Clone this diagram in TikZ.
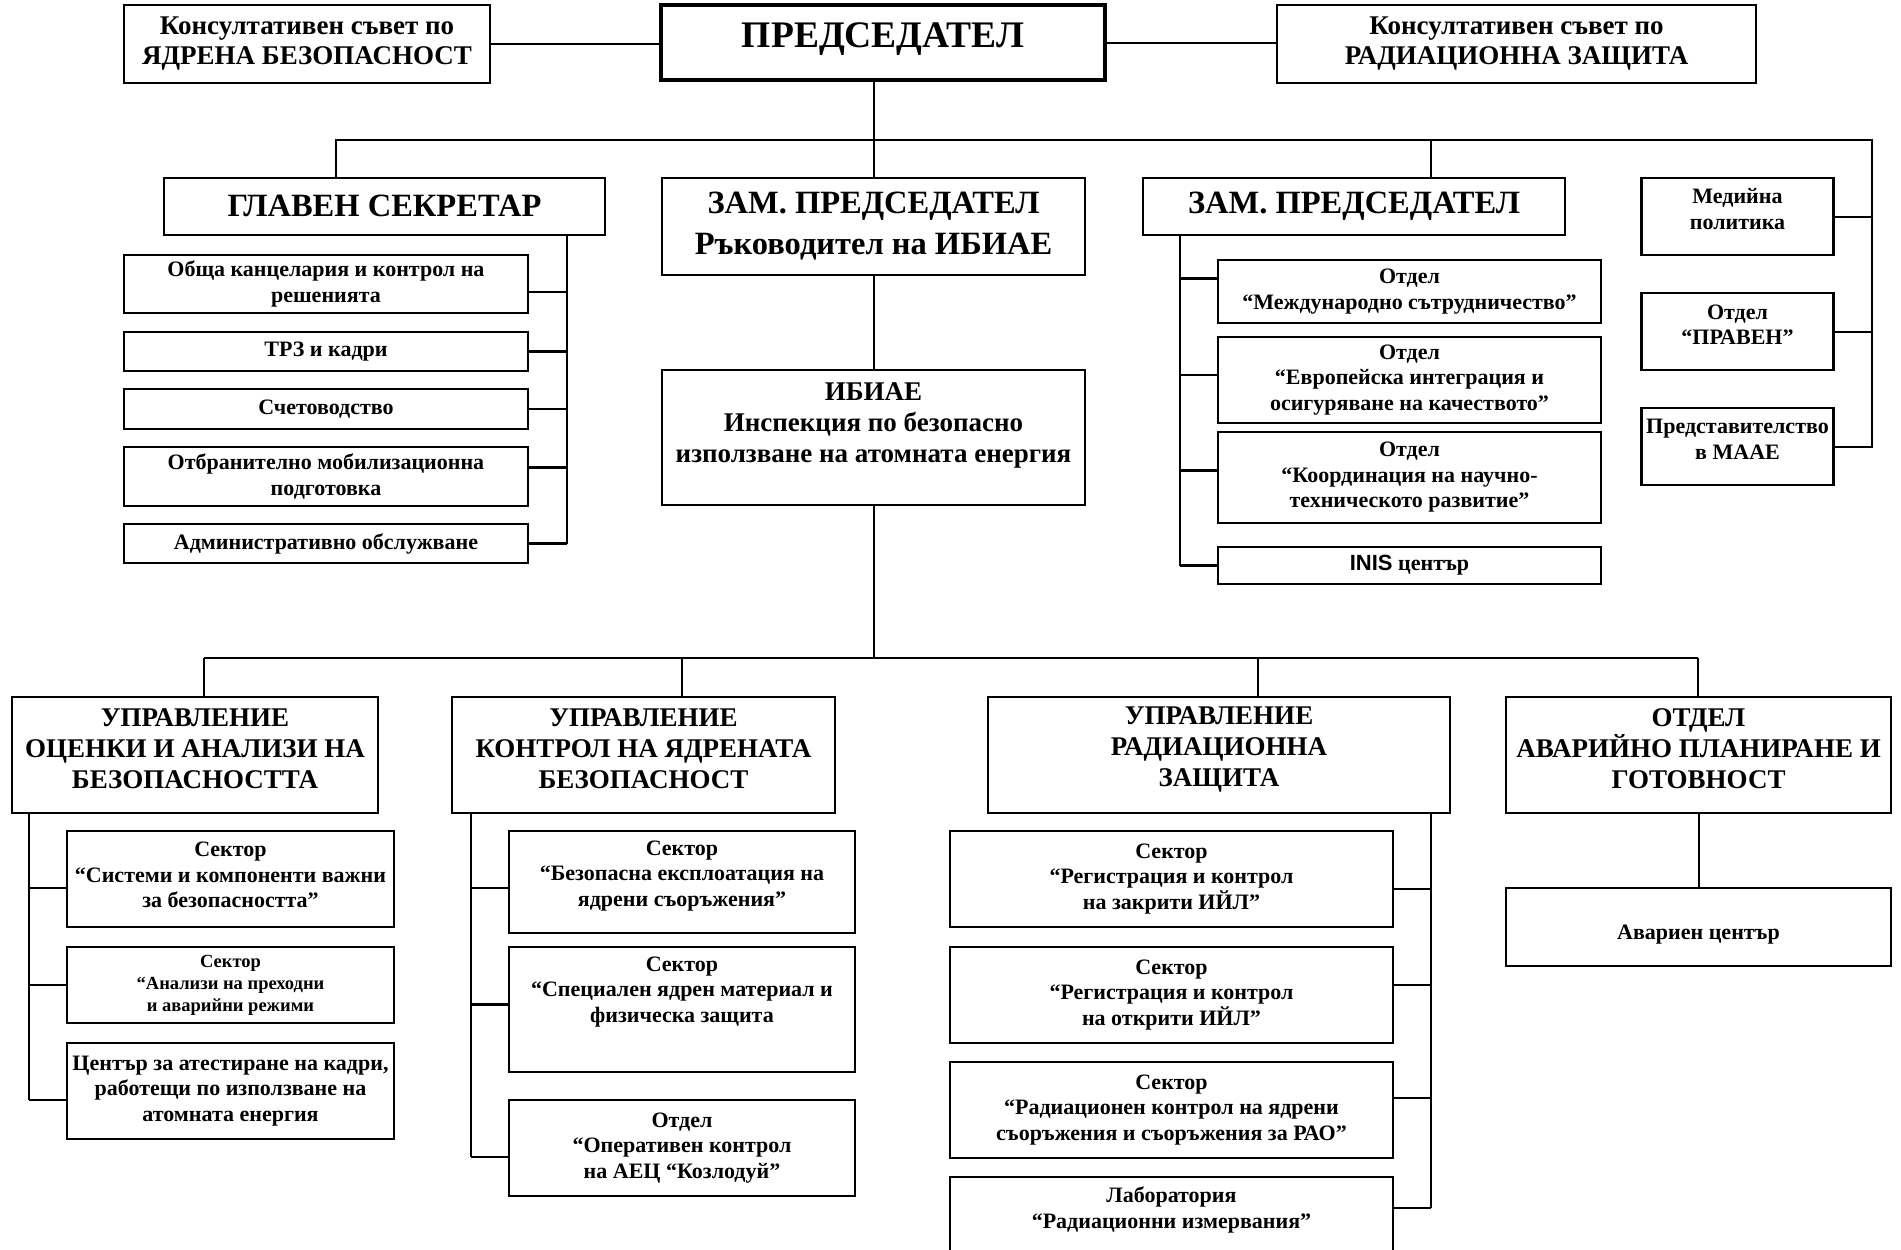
\documentclass[tikz,border=0pt]{standalone}
\usepackage{fontspec}
\setmainfont{Liberation Serif}
\setsansfont{Liberation Sans}
\usepackage{tikz}

\newcommand{\fz}[2]{\fontsize{#1pt}{#2pt}\selectfont\bfseries}

\begin{document}
\begin{tikzpicture}[x=1pt,y=-1pt,
  box/.style={draw,line width=2.6pt,inner sep=0pt,align=center},
  headbig/.style={box,font={\fz{32.5}{41}}},
  headmid/.style={align=center,font={\fz{27}{31}}},
  bodytxt/.style={box,font={\fz{22}{25.5}}},
  plaintxt/.style={align=center,font={\fz{22}{25.5}}},
  bodysmall/.style={box,font={\fz{18.5}{22}}},
  link/.style={line width=2pt},
  buslink/.style={line width=2.7pt}]
\useasboundingbox (0,0) rectangle (1901,1250);

%Top row
\node [box,font={\fz{27}{30}},minimum width=366pt,minimum height=78pt] (ksyb) at (307,44) {Консултативен съвет по\\ЯДРЕНА БЕЗОПАСНОСТ};
\node [box,line width=3.6pt,minimum width=444pt,minimum height=75pt] (pres) at (883,42.5) {};
\node [font={\fz{37.5}{40}}] (prest) at (883,39) {ПРЕДСЕДАТЕЛ};
\node [box,font={\fz{27}{30}},minimum width=479pt,minimum height=78pt] (ksrz) at (1516.5,44) {Консултативен съвет по\\РАДИАЦИОННА ЗАЩИТА};

%Second row
\node [box,minimum width=441pt,minimum height=57pt] (gs) at (384.5,206.5) {};
\node [font={\fz{32.5}{41}}] (gst) at (384.5,206) {ГЛАВЕН СЕКРЕТАР};
\node [headbig,minimum width=423pt,minimum height=97pt] (zam1) at (873.5,226.5) {ЗАМ. ПРЕДСЕДАТЕЛ\\Ръководител на ИБИАЕ};
\node [headbig,minimum width=422pt,minimum height=57pt] (zam2) at (1354,206.5) {ЗАМ. ПРЕДСЕДАТЕЛ};
\node [box,minimum width=192pt,minimum height=77pt] (med) at (1737.5,216.5) {};
\node [plaintxt] (medt) at (1737.5,209) {Медийна\\политика};
\node [box,minimum width=192pt,minimum height=77pt] (prav) at (1737.5,331.5) {};
\node [plaintxt] (pravt) at (1737.5,324.5) {Отдел\\“ПРАВЕН”};
\node [box,minimum width=192pt,minimum height=77pt] (pred) at (1737.5,446.5) {};
\node [plaintxt] (predt) at (1737.5,439.5) {Представителство\\в МААЕ};

%Under the general secretary
\node [bodytxt,minimum width=404pt,minimum height=58pt] (ob) at (326,284) {Обща канцелария и контрол на\\решенията};
\node [bodytxt,minimum width=404pt,minimum height=39pt] (trz) at (326,351.5) {ТРЗ и кадри};
\node [bodytxt,minimum width=404pt,minimum height=40pt] (sch) at (326,409) {Счетоводство};
\node [bodytxt,minimum width=404pt,minimum height=59pt] (otbr) at (326,476.5) {Отбранително мобилизационна\\подготовка};
\node [bodytxt,minimum width=404pt,minimum height=39pt] (adm) at (326,543.5) {Административно обслужване};

%Inspection
\node [box,minimum width=423pt,minimum height=135pt] (ibiae) at (873.5,437.5) {};
\node [align=center,font={\fz{27}{31}}] (ibt) at (873.5,425) {ИБИАЕ\\Инспекция по безопасно\\използване на атомната енергия};

%Under the second deputy
\node [bodytxt,minimum width=383pt,minimum height=63pt] (mezh) at (1409.5,291.5) {Отдел\\“Международно сътрудничество”};
\node [bodytxt,minimum width=383pt,minimum height=86pt] (evro) at (1409.5,380) {Отдел\\“Европейска интеграция и\\осигуряване на качеството”};
\node [bodytxt,minimum width=383pt,minimum height=91pt] (koord) at (1409.5,477.5) {Отдел\\“Координация на научно-\\техническото развитие”};
\node [bodytxt,minimum width=383pt,minimum height=37pt] (inis) at (1409.5,565.5) {{\sffamily INIS} център};

%Directorates
\node [box,minimum width=366pt,minimum height=116pt] (u1) at (195,755) {};
\node [headmid] (u1t) at (195,749) {УПРАВЛЕНИЕ\\ОЦЕНКИ И АНАЛИЗИ НА\\БЕЗОПАСНОСТТА};
\node [box,minimum width=383pt,minimum height=116pt] (u2) at (643.5,755) {};
\node [headmid] (u2t) at (643.5,749) {УПРАВЛЕНИЕ\\КОНТРОЛ НА ЯДРЕНАТА\\БЕЗОПАСНОСТ};
\node [box,minimum width=462pt,minimum height=116pt] (u3) at (1219,755) {};
\node [headmid] (u3t) at (1219,749) {УПРАВЛЕНИЕ\\РАДИАЦИОННА\\ЗАЩИТА};
\node [box,minimum width=385pt,minimum height=116pt] (od) at (1698.5,755) {};
\node [headmid] (odt) at (1698.5,749) {ОТДЕЛ\\АВАРИЙНО ПЛАНИРАНЕ И\\ГОТОВНОСТ};

%Sectors
\node [box,minimum width=327pt,minimum height=96pt] (s1) at (230.5,879) {};
\node [plaintxt] (s1t) at (230.5,875) {Сектор\\“Системи и компоненти важни\\за безопасността”};
\node [bodysmall,minimum width=327pt,minimum height=76pt] (s2) at (230.5,985) {Сектор\\“Анализи на преходни\\и аварийни режими};
\node [bodytxt,minimum width=327pt,minimum height=96pt] (c1) at (230.5,1091) {Център за атестиране на кадри,\\работещи по използване на\\атомната енергия};
\node [box,minimum width=346pt,minimum height=102pt] (b1) at (682,882) {};
\node [plaintxt] (b1t) at (682,876) {Сектор\\“Безопасна експлоатация на\\ядрени съоръжения”};
\node [box,minimum width=346pt,minimum height=125pt] (b2) at (682,1009.5) {};
\node [plaintxt] (b2t) at (682,992) {Сектор\\“Специален ядрен материал и\\физическа защита};
\node [bodytxt,minimum width=346pt,minimum height=96pt] (b3) at (682,1148) {Отдел\\“Оперативен контрол\\на АЕЦ “Козлодуй”};
\node [bodytxt,minimum width=443pt,minimum height=96pt] (r1) at (1171.5,879) {Сектор\\“Регистрация и контрол\\на закрити ИЙЛ”};
\node [bodytxt,minimum width=443pt,minimum height=96pt] (r2) at (1171.5,995) {Сектор\\“Регистрация и контрол\\на открити ИЙЛ”};
\node [bodytxt,minimum width=443pt,minimum height=96pt] (r3) at (1171.5,1110) {Сектор\\“Радиационен контрол на ядрени\\съоръжения и съоръжения за РАО”};
\node [box,minimum width=443pt,minimum height=100pt] (lab) at (1171.5,1227) {};
\node [plaintxt] (labt) at (1171.5,1210) {Лаборатория\\“Радиационни измервания”};
\node [box,minimum width=385pt,minimum height=78pt] (avar) at (1698.5,927) {};
\node [plaintxt] (avart) at (1698.5,935) {Авариен център};

%Bus points
\coordinate (gstop) at (336,140);
\coordinate (rbus) at (1872,140);
\coordinate (z2top) at (1431,140);
\coordinate (gsbus) at (567,235);
\coordinate (zbus) at (1180,235);
\coordinate (bus2l) at (204,658);
\coordinate (bus2r) at (1698,658);
\coordinate (u2top) at (682,658);
\coordinate (u3top) at (1258,658);
\coordinate (u1bus) at (29,813);
\coordinate (u2bus) at (471,813);
\coordinate (u3bus) at (1431,813);

%Top links
\draw [link] (ksyb.east) -- (ksyb.east -| pres.west);
\draw [link] (pres.east) -- (pres.east -| ksrz.west);
\draw [link] (pres.south -| zam1.north) -- (zam1.north);
\draw [link] (gstop |- gs.north) -- (gstop) -- (rbus) -- (rbus |- pred.east) -- (pred.east);
\draw [link] (z2top) -- (z2top |- zam2.north);
\draw [link] (med.east) -- (med.east -| rbus);
\draw [link] (prav.east) -- (prav.east -| rbus);

%General secretary links
\draw [link] (gsbus) -- (gsbus |- adm.east);
\draw [buslink] ([yshift=-8pt]ob.east) -- ([yshift=-8pt]ob.east -| gsbus);
\draw [buslink] (trz.east) -- (trz.east -| gsbus);
\draw [buslink] (sch.east) -- (sch.east -| gsbus);
\draw [buslink] ([yshift=9pt]otbr.east) -- ([yshift=9pt]otbr.east -| gsbus);
\draw [buslink] (adm.east) -- (adm.east -| gsbus);

%Second deputy links
\draw [link] (zbus) -- (zbus |- inis.west);
\draw [buslink] ([yshift=13pt]mezh.west) -- ([yshift=13pt]mezh.west -| zbus);
\draw [buslink] ([yshift=5pt]evro.west) -- ([yshift=5pt]evro.west -| zbus);
\draw [buslink] ([yshift=7pt]koord.west) -- ([yshift=7pt]koord.west -| zbus);
\draw [buslink] (inis.west) -- (inis.west -| zbus);

%Inspection links
\draw [link] (zam1.south) -- (ibiae.north);
\draw [link] (ibiae.south) -- (ibiae.south |- bus2l);
\draw [buslink] (bus2l) -- (bus2r);
\draw [link] (bus2l) -- (bus2l |- u1.north);
\draw [link] (u2top) -- (u2top |- u2.north);
\draw [link] (u3top) -- (u3top |- u3.north);
\draw [link] (bus2r) -- (bus2r |- od.north);

%Sector links
\draw [link] (u1bus) -- ([yshift=-9pt]u1bus |- c1.west);
\draw [buslink] ([yshift=-9pt]s1.west) -- ([yshift=-9pt]s1.west -| u1bus);
\draw [buslink] (s2.west) -- (s2.west -| u1bus);
\draw [buslink] ([yshift=-9pt]c1.west) -- ([yshift=-9pt]c1.west -| u1bus);
\draw [link] (u2bus) -- ([yshift=-9pt]u2bus |- b3.west);
\draw [buslink] ([yshift=-6pt]b1.west) -- ([yshift=-6pt]b1.west -| u2bus);
\draw [buslink] ([yshift=5pt]b2.west) -- ([yshift=5pt]b2.west -| u2bus);
\draw [buslink] ([yshift=-9pt]b3.west) -- ([yshift=-9pt]b3.west -| u2bus);
\draw [link] (u3bus) -- ([yshift=19pt]u3bus |- lab.east);
\draw [buslink] ([yshift=-10pt]r1.east) -- ([yshift=-10pt]r1.east -| u3bus);
\draw [buslink] ([yshift=10pt]r2.east) -- ([yshift=10pt]r2.east -| u3bus);
\draw [buslink] ([yshift=12pt]r3.east) -- ([yshift=12pt]r3.east -| u3bus);
\draw [buslink] ([yshift=19pt]lab.east) -- ([yshift=19pt]lab.east -| u3bus);
\draw [link] (od.south) -- (avar.north);

\end{tikzpicture}
\end{document}
